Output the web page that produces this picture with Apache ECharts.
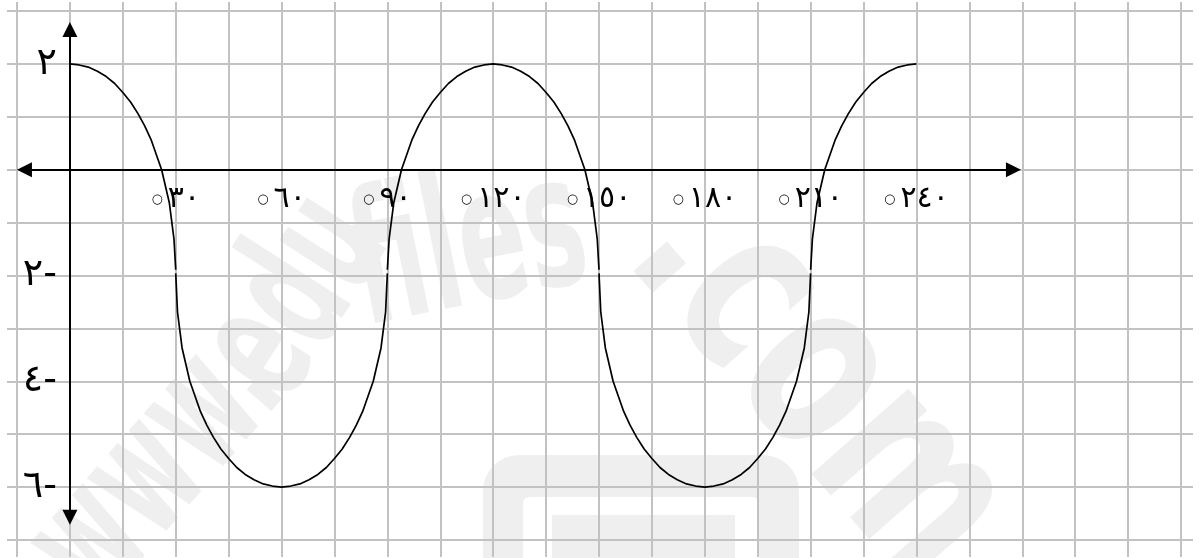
<!DOCTYPE html>
<html>
<head>
<meta charset="utf-8">
<script src="https://cdn.jsdelivr.net/npm/echarts@6.0.0/dist/echarts.min.js"></script>
<style>
  html, body { margin: 0; padding: 0; background: #fff; }
  #chart { width: 1199px; height: 558px; }
</style>
</head>
<body>
<div id="chart"></div>
<script>
// tick labels (Arabic-Indic digits)
const xTickValues = [30, 60, 90, 120, 150, 180, 210, 240];
const xTickLabels = ['٣٠', '٦٠', '٩٠', '١٢٠', '١٥٠', '١٨٠', '٢١٠', '٢٤٠'];
const yTickValues = [2, -2, -4, -6];
const yTickLabels = ['٢', '٢-', '٤-', '٦-'];

// curve, in pieces (the drawing has small breaks at y = -2)
const fallFrom0 = [[0, 2], [2.6, 1.98], [5.2, 1.94], [7.8, 1.86], [10.3, 1.76], [12.7, 1.63], [15, 1.46],
    [17.2, 1.28], [19.3, 1.06], [21.2, 0.83], [23, 0.57], [26, 0], [28.2, -0.63], [29.5, -1.31], [30, -1.89]];
const trough60 = [[30, -1.96], [30.5, -2.69], [31.8, -3.37], [34, -4], [37, -4.57], [38.8, -4.83],
    [40.7, -5.06], [42.8, -5.28], [45, -5.46], [47.3, -5.63], [49.7, -5.76], [52.2, -5.86], [54.8, -5.94],
    [57.4, -5.98], [60, -6], [62.6, -5.98], [65.2, -5.94], [67.8, -5.86], [70.3, -5.76], [72.7, -5.63],
    [75, -5.46], [77.2, -5.28], [79.3, -5.06], [81.2, -4.83], [83, -4.57], [86, -4], [88.2, -3.37],
    [89.5, -2.69], [90, -1.96]];
const crest120 = [[90, -1.89], [90.5, -1.31], [91.8, -0.63], [94, 0], [97, 0.57], [98.8, 0.83],
    [100.7, 1.06], [102.8, 1.28], [105, 1.46], [107.3, 1.63], [109.7, 1.76], [112.2, 1.86], [114.8, 1.94],
    [117.4, 1.98], [120, 2], [122.6, 1.98], [125.2, 1.94], [127.8, 1.86], [130.3, 1.76], [132.7, 1.63],
    [135, 1.46], [137.2, 1.28], [139.3, 1.06], [141.2, 0.83], [143, 0.57], [146, 0], [148.2, -0.63],
    [149.5, -1.31], [150, -1.89]];
const trough180 = [[150, -1.96], [150.5, -2.69], [151.8, -3.37], [154, -4], [157, -4.57], [158.8, -4.83],
    [160.7, -5.06], [162.8, -5.28], [165, -5.46], [167.3, -5.63], [169.7, -5.76], [172.2, -5.86], [174.8, -5.94],
    [177.4, -5.98], [180, -6], [182.6, -5.98], [185.2, -5.94], [187.8, -5.86], [190.3, -5.76], [192.7, -5.63],
    [195, -5.46], [197.2, -5.28], [199.3, -5.06], [201.2, -4.83], [203, -4.57], [206, -4], [208.2, -3.37],
    [209.5, -2.69], [210, -1.96]];
const riseTo240 = [[210, -1.89], [210.5, -1.31], [211.8, -0.63], [214, 0], [217, 0.57], [218.8, 0.83],
    [220.7, 1.06], [222.8, 1.28], [225, 1.46], [227.3, 1.63], [229.7, 1.76], [232.2, 1.86], [234.8, 1.94],
    [237.4, 1.98], [240, 2]];

const gridColor = '#c2c2c2';
const markColor = '#efefef';
const font = 'DejaVu Sans';

function arabicLabel(values, labels) {
    return function (v) {
        const i = values.indexOf(v);
        return i < 0 ? '' : labels[i];
    };
}

function curve(points, withAxes) {
    const s = {
        type: 'line',
        xAxisIndex: 2,
        yAxisIndex: 2,
        data: points,
        symbol: 'none',
        smooth: false,
        silent: true,
        clip: false,
        z: 5,
        lineStyle: { color: '#000', width: 1.7 }
    };
    if (withAxes) {
        // the two arrowed axes
        s.markLine = {
            silent: true,
            animation: false,
            symbol: ['triangle', 'triangle'],
            symbolSize: 15,
            label: { show: false },
            lineStyle: { color: '#000', width: 2, type: 'solid' },
            data: [
                [{ coord: [-12.9, 0] }, { coord: [267.5, 0] }],
                [{ coord: [0, 2.65] }, { coord: [0, -6.57] }]
            ]
        };
    }
    return s;
}

function wmText(text, x, y, rot, size, sx, sy) {
    return {
        type: 'text', x: x, y: y, rotation: rot, scaleX: sx, scaleY: sy, z: -100, silent: true,
        style: {
            text: text, fill: markColor, fontSize: size, fontWeight: 'bold',
            fontFamily: font,
            align: 'center', verticalAlign: 'middle'
        }
    };
}

const chart = echarts.init(document.getElementById('chart'));

chart.setOption({
    animation: false,
    backgroundColor: '#fff',
    grid: [
        { left: 17, right: 18, top: 2, bottom: 1, outerBoundsMode: 'none', containLabel: false },   // vertical rules
        { left: 7, right: 6, top: 11, bottom: 18, outerBoundsMode: 'none', containLabel: false },   // horizontal rules
        { left: 17, right: 18, top: 11, bottom: 18, outerBoundsMode: 'none', containLabel: false }  // the plot
    ],
    xAxis: [
        {
            gridIndex: 0, type: 'value', min: -15, max: 315, interval: 15,
            axisLine: { show: false }, axisTick: { show: false }, axisLabel: { show: false },
            splitLine: { show: true, lineStyle: { color: gridColor, width: 2 } }
        },
        {
            gridIndex: 1, type: 'value', min: 0, max: 1, show: false
        },
        {
            // sits on y = 0 : 370.3px above the plot's bottom edge
            gridIndex: 2, type: 'value', min: -15, max: 315, interval: 15,
            position: 'bottom', offset: -370.3,
            axisLine: { show: false, onZero: false },
            axisTick: { show: false },
            splitLine: { show: false },
            axisLabel: {
                show: true,
                margin: 15,
                formatter: function (v) {
                    const t = arabicLabel(xTickValues, xTickLabels)(v);
                    return t ? '{c|○}{n|' + t + '}' : '';
                },
                rich: {
                    c: { fontFamily: font, fontSize: 13, color: '#000', padding: [0, 5, 0, 0] },
                    n: { fontFamily: font, fontSize: 30, color: '#000' }
                }
            }
        }
    ],
    yAxis: [
        {
            gridIndex: 0, type: 'value', min: 0, max: 1, show: false
        },
        {
            gridIndex: 1, type: 'value', min: -7, max: 3, interval: 1,
            axisLine: { show: false }, axisTick: { show: false }, axisLabel: { show: false },
            splitLine: { show: true, lineStyle: { color: gridColor, width: 2 } }
        },
        {
            // sits on x = 0 : one cell right of the plot's left edge
            gridIndex: 2, type: 'value', min: -7, max: 3, interval: 1,
            position: 'left', offset: -52.9,
            axisLine: { show: false, onZero: false },
            axisTick: { show: false },
            splitLine: { show: false },
            axisLabel: {
                show: true,
                margin: 13,
                color: '#000',
                fontFamily: font,
                fontSize: 38,
                formatter: arabicLabel(yTickValues, yTickLabels)
            }
        }
    ],
    graphic: [
        // faint site watermark behind the grid
        wmText('www.', 160, 470, 0.85, 150, 0.62, 1.15),
        wmText('edu', 300, 300, 1.0, 150, 0.62, 1.15),
        wmText('files', 470, 255, 0.2, 160, 0.62, 1.15),
        wmText('.com', 815, 385, -0.85, 235, 0.7, 1.0),
        {
            type: 'rect', z: -100, silent: true,
            shape: { x: 483, y: 455, width: 316, height: 160, r: 36 },
            style: { fill: markColor }
        },
        {
            type: 'rect', z: -99, silent: true,
            shape: { x: 523, y: 497, width: 236, height: 100, r: 6 },
            style: { fill: '#fff' }
        },
        {
            type: 'rect', z: -98, silent: true,
            shape: { x: 552, y: 515, width: 183, height: 60 },
            style: { fill: markColor }
        }
    ],
    series: [
        curve(fallFrom0, true),
        curve(trough60),
        curve(crest120),
        curve(trough180),
        curve(riseTo240)
    ]
});
</script>
</body>
</html>
